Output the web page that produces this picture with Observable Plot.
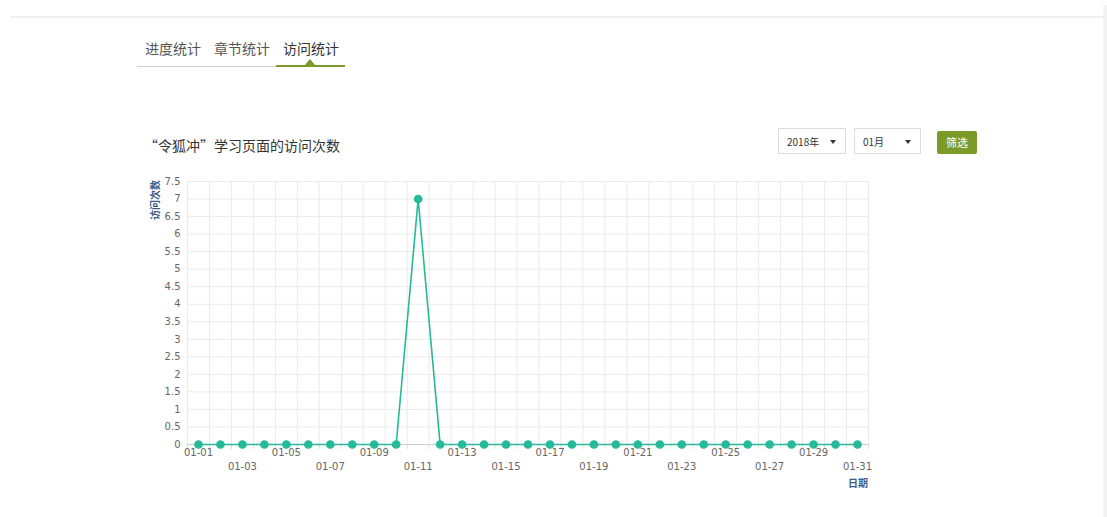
<!DOCTYPE html>
<html>
<head>
<meta charset="utf-8">
<script src="https://cdn.jsdelivr.net/npm/d3@7"></script>
<script src="https://cdn.jsdelivr.net/npm/@observablehq/plot@0.6"></script>
<style>
  html, body { margin: 0; padding: 0; background: #fff; width: 1107px; height: 517px; overflow: hidden; position: relative; font-family: "Noto Sans CJK SC", "DejaVu Sans", sans-serif; }
  .abs { position: absolute; }
  .topline { left: 10px; top: 16px; width: 1093px; height: 2px; background: #f0f0f0; }
  .scroll { left: 1103px; top: 5px; width: 4px; height: 512px; background: #f3f3f3; }
  .tab { top: 38px; font-size: 14px; color: #555; line-height: 20px; }
  .tabline { left: 137px; top: 66px; width: 208px; height: 1px; background: #ccc; }
  .tabactive { left: 276px; top: 65px; width: 69px; height: 2px; background: #7a9a2a; }
  .tri { left: 305px; top: 59px; width: 0; height: 0; border-left: 5px solid transparent; border-right: 5px solid transparent; border-bottom: 6px solid #7a9a2a; }
  .title { left: 144px; top: 135px; font-size: 14px; color: #333; line-height: 20px; }
  .sel { top: 128px; border: 1px solid #ddd; background: #fff; font-size: 10px; color: #333; line-height: 25px; box-sizing: border-box; height: 26px; }
  .sel .t { position: absolute; left: 8px; top: 0; }
  .sel .a { position: absolute; right: 9px; top: 11px; width: 0; height: 0; border-left: 3.5px solid transparent; border-right: 3.5px solid transparent; border-top: 4px solid #333; }
  .btn { left: 937px; top: 131px; width: 40px; height: 23px; background: #7a9a2a; color: #fff; font-size: 11px; line-height: 23px; text-align: center; border-radius: 2px; }
  .ylab { left: 135px; top: 193px; width: 40px; height: 14px; line-height: 14px; text-align: center; font-size: 10px; color: #3c5d87; font-weight: bold; transform: rotate(-90deg); transform-origin: center; white-space: nowrap; }
  .xlab { left: 848px; top: 475px; font-size: 10px; color: #3c5d87; font-weight: bold; }
  #chart { left: 140px; top: 170px; }
</style>
</head>
<body>
<div class="abs topline"></div>
<div class="abs scroll"></div>
<div class="abs tab" style="left:145px">进度统计</div>
<div class="abs tab" style="left:214px">章节统计</div>
<div class="abs tab" style="left:283px;color:#333">访问统计</div>
<div class="abs tabline"></div>
<div class="abs tabactive"></div>
<div class="abs tri"></div>
<div class="abs title">“令狐冲”学习页面的访问次数</div>
<div class="abs sel" style="left:778px;width:68px"><span class="t">2018年</span><span class="a"></span></div>
<div class="abs sel" style="left:854px;width:67px"><span class="t">01月</span><span class="a"></span></div>
<div class="abs btn">筛选</div>
<div class="abs ylab">访问次数</div>
<div class="abs xlab">日期</div>
<div class="abs" id="chart"></div>
<script>
const dates = ["01-01","01-02","01-03","01-04","01-05","01-06","01-07","01-08","01-09","01-10",
  "01-11","01-12","01-13","01-14","01-15","01-16","01-17","01-18","01-19","01-20",
  "01-21","01-22","01-23","01-24","01-25","01-26","01-27","01-28","01-29","01-30","01-31"];
const visits = [0,0,0,0,0,0,0,0,0,0,7,0,0,0,0,0,0,0,0,0,0,0,0,0,0,0,0,0,0,0,0];
const yTicks = [0,0.5,1,1.5,2,2.5,3,3.5,4,4.5,5,5.5,6,6.5,7,7.5];

const data = dates.map((d, i) => ({i, date: d, v: visits[i]}));
const labeled = dates.map((d, i) => i).filter(i => i % 2 === 0);
const row1 = labeled.filter(i => i % 4 === 0);
const row2 = labeled.filter(i => i % 4 === 2);
const bounds = d3.range(-0.5, dates.length, 1);
const color = "#26b99a";

const chart = Plot.plot({
  width: 760,
  height: 330,
  marginLeft: 47,
  marginRight: 32,
  marginTop: 11,
  marginBottom: 56,
  style: {fontFamily: "'DejaVu Sans', sans-serif", fontSize: "10px", color: "#666", background: "transparent"},
  x: {type: "linear", domain: [-0.5, dates.length - 0.5]},
  y: {domain: [0, 7.5]},
  marks: [
    Plot.gridY(yTicks, {stroke: "#ebebeb", strokeOpacity: 1}),
    Plot.gridX(bounds, {stroke: "#ebebeb", strokeOpacity: 1}),
    Plot.ruleY([0], {stroke: "#ccc"}),
    Plot.axisY({ticks: yTicks, tickSize: 0, tickPadding: 7, label: null, tickFormat: d => String(d), fill: "#666"}),
    Plot.axisX({ticks: bounds, tickSize: 5, tickFormat: () => "", stroke: "#ddd", label: null}),
    Plot.axisX({ticks: row1, tickSize: 0, tickPadding: 4, tickFormat: i => dates[i], label: null, fill: "#666"}),
    Plot.axisX({ticks: row2, tickSize: 0, tickPadding: 18, tickFormat: i => dates[i], label: null, fill: "#666"}),
    Plot.line(data, {x: "i", y: "v", stroke: color, strokeWidth: 1.6}),
    Plot.dot(data, {x: "i", y: "v", r: 3.6, fill: color, stroke: color})
  ]
});
document.getElementById("chart").appendChild(chart);
</script>
</body>
</html>
